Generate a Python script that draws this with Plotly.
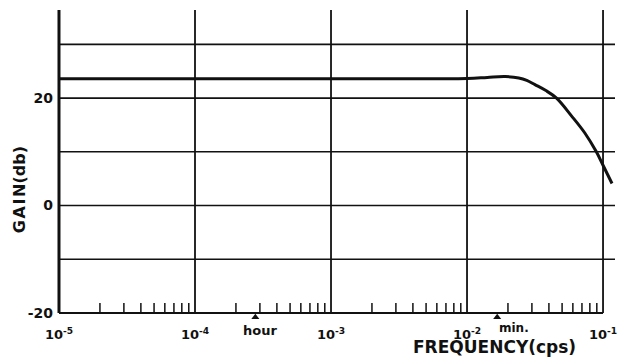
import math
import plotly.graph_objects as go

# Frequency response of the amplifier (gain in dB vs frequency in cps)
freq_cps = [1e-5, 1e-4, 1e-3, 1e-2, 0.0141, 0.0191, 0.0240, 0.0275, 0.0316,
            0.0380, 0.0455, 0.0586, 0.0735, 0.0893, 0.1000, 0.1164]
gain_db = [23.6, 23.6, 23.6, 23.65, 23.85, 24.0, 23.75, 23.3, 22.5,
           21.4, 20.0, 16.7, 13.5, 10.0, 7.5, 4.1]

# Axis layout values
decades = [1e-5, 1e-4, 1e-3, 1e-2, 1e-1]
decade_labels = ["10<sup>-5</sup>", "10<sup>-4</sup>", "10<sup>-3</sup>",
                 "10<sup>-2</sup>", "10<sup>-1</sup>"]
gain_grid = [-10, 0, 10, 20, 30]
gain_ticks = [-20, 0, 20]
time_marks = [1 / 3600, 1 / 60]
time_labels = ["hour", "min."]

X_LOG_RANGE = [-5.022, -0.912]
Y_RANGE = [-21.5, 36.4]
INK = "#111111"
FONT = "DejaVu Sans"

x_right = 10 ** X_LOG_RANGE[1]

fig = go.Figure()


def add_segments(xs, ys, width):
    fig.add_trace(go.Scatter(x=xs, y=ys, mode="lines",
                             line=dict(color=INK, width=width),
                             hoverinfo="skip", showlegend=False))


# horizontal grid
hx, hy = [], []
for g in gain_grid:
    hx += [decades[0], x_right, None]
    hy += [g, g, None]
add_segments(hx, hy, 1.6)

# bottom axis line
add_segments([decades[0], decades[-1]], [-20, -20], 2)

# vertical decade lines
vx, vy = [], []
for d in decades[1:]:
    vx += [d, d, None]
    vy += [-20, Y_RANGE[1], None]
add_segments(vx, vy, 1.8)

# left axis line
add_segments([decades[0], decades[0]], [-20, Y_RANGE[1]], 3)

# inside minor ticks at 2..9 of each decade
tx, ty = [], []
for d in decades[:-1]:
    for m in range(2, 10):
        tx += [m * d, m * d, None]
        ty += [-20, -18.15, None]
add_segments(tx, ty, 1.5)

# gain curve
fig.add_trace(go.Scatter(x=freq_cps, y=gain_db, mode="lines",
                         line=dict(color=INK, width=3, shape="spline", smoothing=1.0),
                         hoverinfo="skip", showlegend=False))

# hour / minute markers just under the axis
fig.add_trace(go.Scatter(x=time_marks, y=[-20.8, -20.8], mode="markers",
                         marker=dict(symbol="triangle-up", size=7, color=INK),
                         cliponaxis=False, hoverinfo="skip", showlegend=False))

annotations = [
    dict(x=math.log10(time_marks[0]), y=-20, xref="x", yref="y",
         text=time_labels[0], showarrow=False, xanchor="center", yanchor="middle",
         xshift=5, yshift=-18, font=dict(family=FONT, size=13, color=INK, weight="bold")),
    dict(x=math.log10(time_marks[1]), y=-20, xref="x", yref="y",
         text=time_labels[1], showarrow=False, xanchor="left", yanchor="middle",
         xshift=0, yshift=-15, font=dict(family=FONT, size=12, color=INK, weight="bold")),
    dict(x=(19 - 56) / 561, y=(321 - 190) / 311, xref="paper", yref="paper",
         text="G\u200aA\u200aI\u200aN(db)", textangle=-90, showarrow=False,
         xanchor="center", yanchor="middle",
         font=dict(family=FONT, size=16, color=INK, weight="bold")),
    dict(x=(496 - 56) / 561, y=(321 - 347) / 311, xref="paper", yref="paper",
         text="FREQUENCY(cps)", showarrow=False, xanchor="center", yanchor="middle",
         font=dict(family=FONT, size=17, color=INK, weight="bold")),
]

fig.update_layout(
    width=620, height=358,
    margin=dict(l=56, r=3, t=10, b=37),
    paper_bgcolor="white", plot_bgcolor="white",
    annotations=annotations,
    xaxis=dict(type="log", range=X_LOG_RANGE, showgrid=False, zeroline=False,
               showline=False, ticks="", tickvals=decades, ticktext=decade_labels,
               ticklabelstandoff=4,
               tickfont=dict(family=FONT, size=13, color=INK, weight="bold")),
    yaxis=dict(range=Y_RANGE, showgrid=False, zeroline=False, showline=False,
               ticks="", tickvals=gain_ticks, ticktext=[str(v) for v in gain_ticks],
               ticklabelstandoff=2,
               tickfont=dict(family=FONT, size=14, color=INK, weight="bold")),
)

fig.write_html("out.html")
